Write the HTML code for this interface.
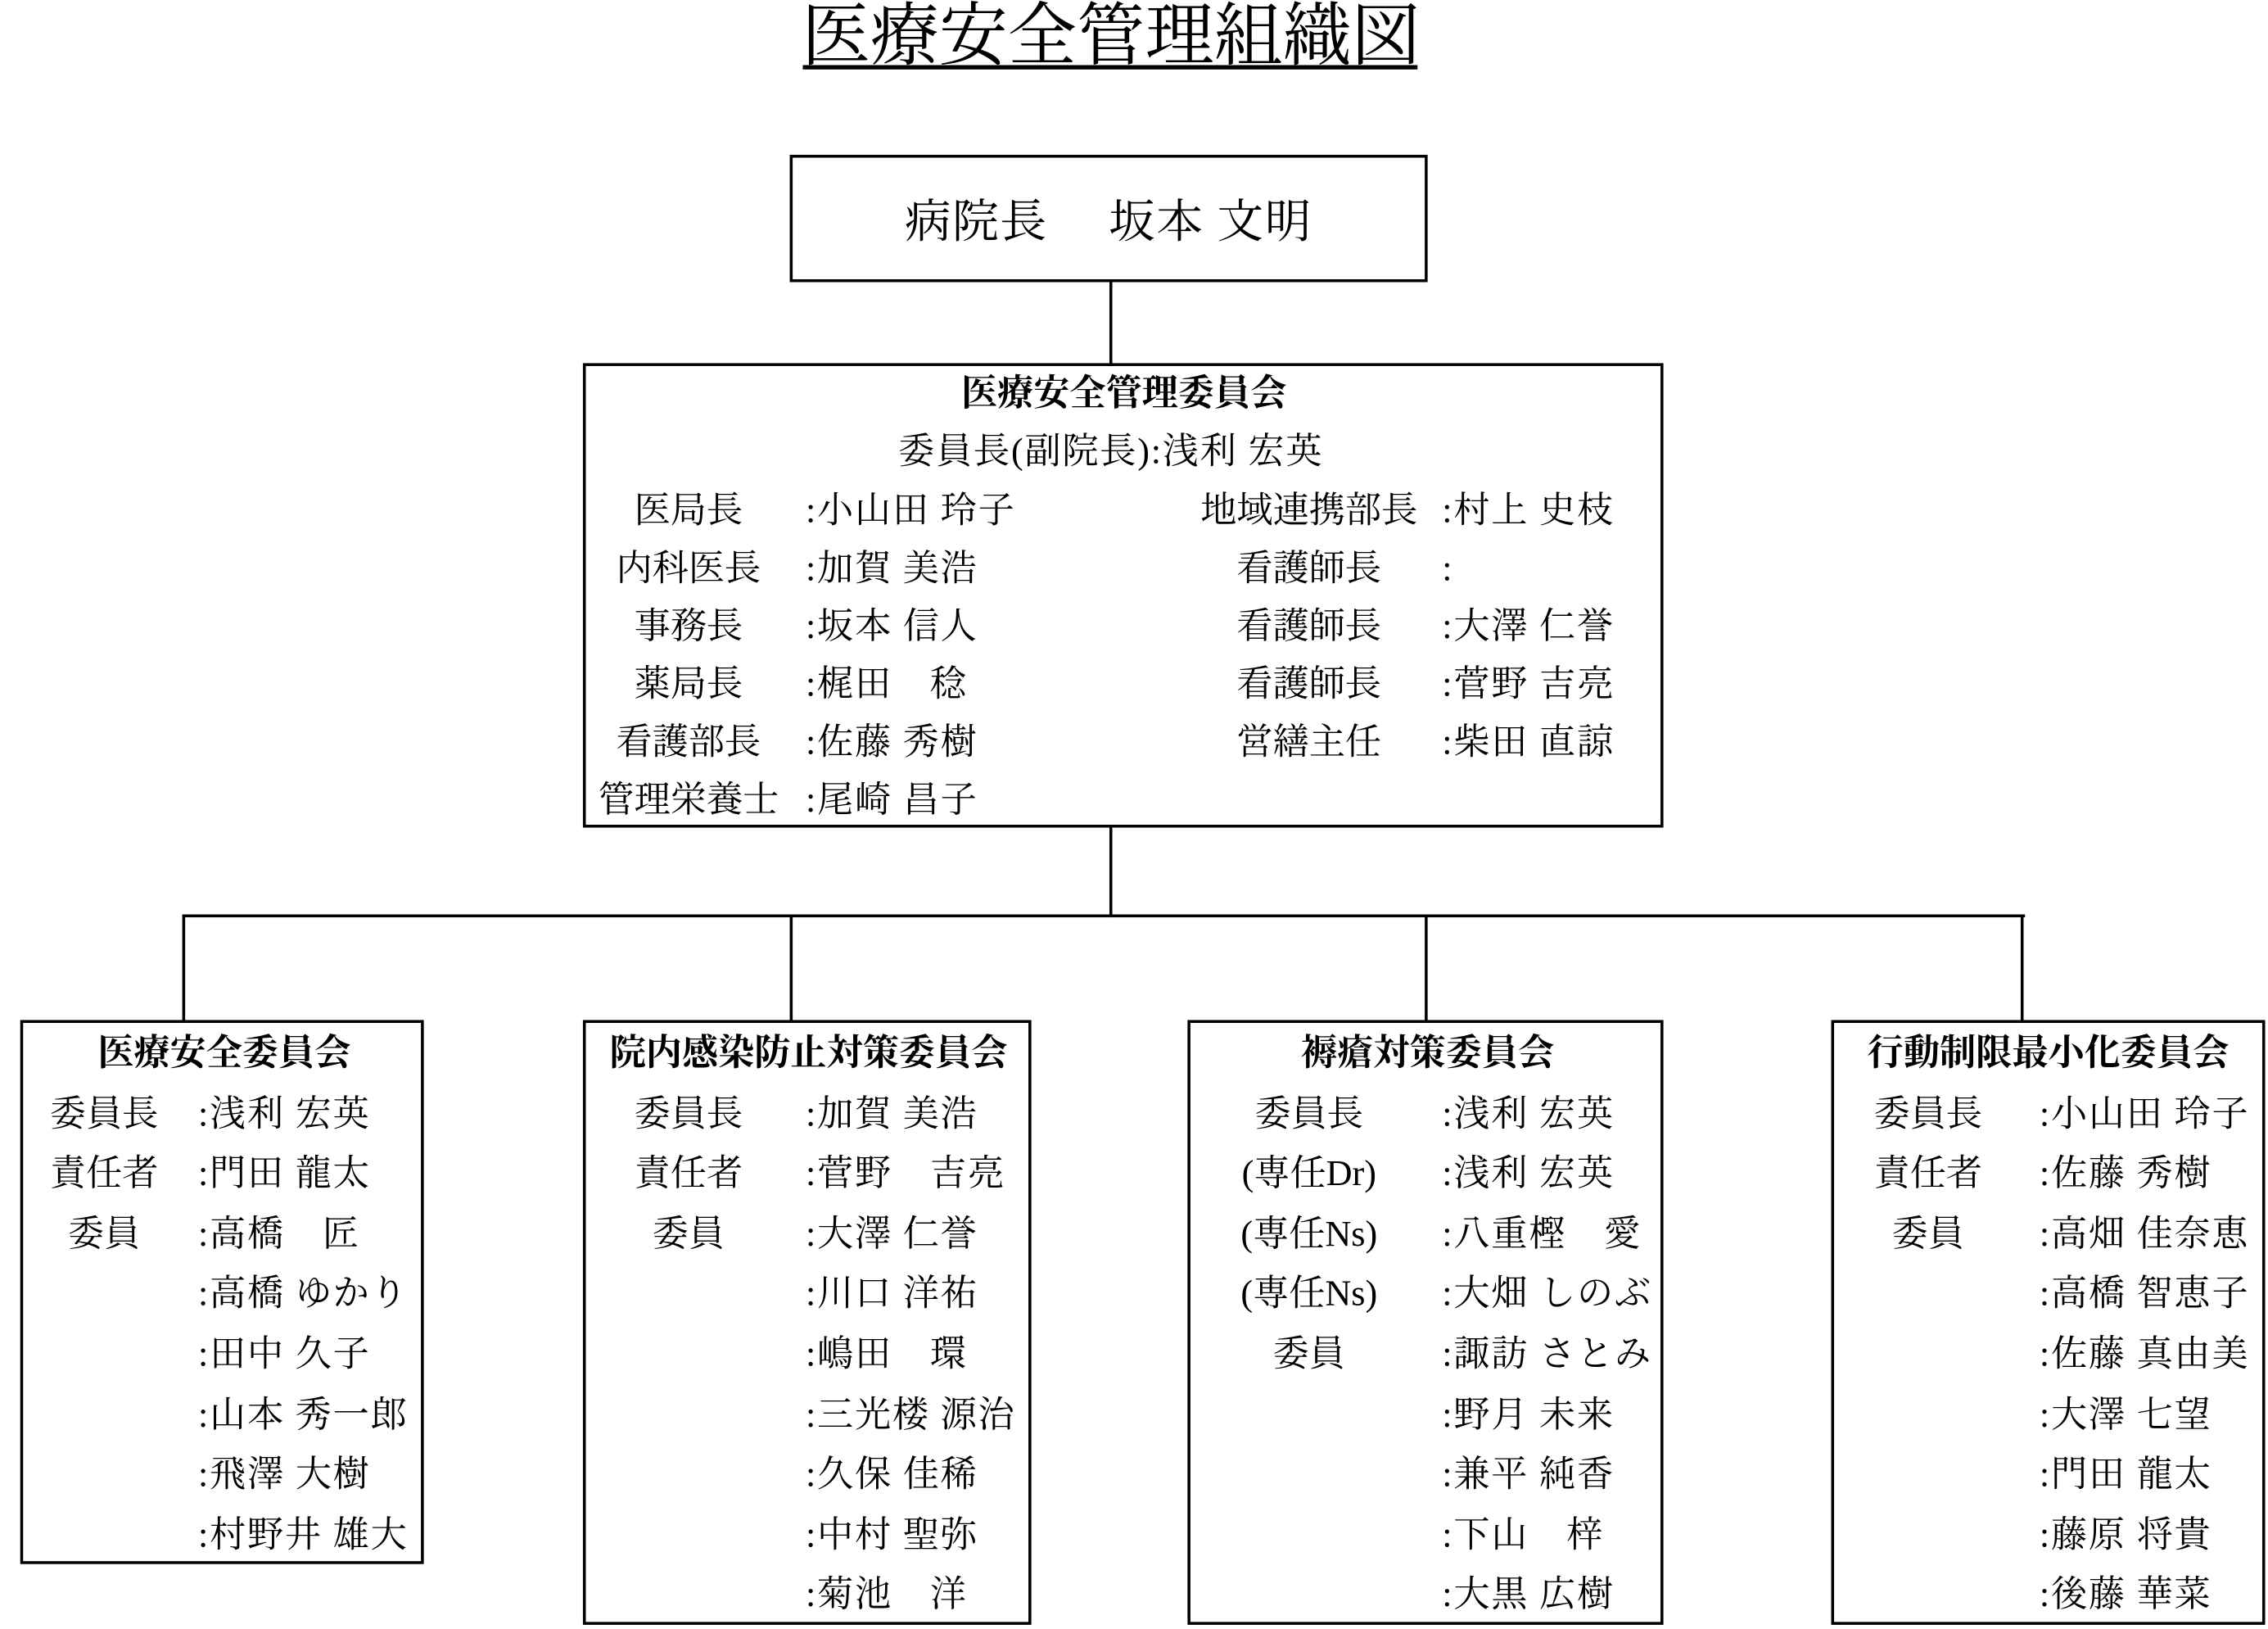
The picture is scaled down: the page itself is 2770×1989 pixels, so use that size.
<!DOCTYPE html>
<html><head><meta charset="utf-8">
<style>
html,body{margin:0;padding:0;background:#fff;width:2770px;height:1989px;overflow:hidden}
#w{position:absolute;left:0;top:0;width:1568px;height:1126px;transform:scale(1.7666);transform-origin:0 0;
font-family:"Liberation Serif","Noto Serif CJK JP",serif;color:#000}
.b{position:absolute;border:2px solid #000;box-sizing:border-box}
.h{position:absolute;height:2px;background:#000}
.v{position:absolute;width:2px;background:#000}
.t{position:absolute;font-size:25px;line-height:30px;height:30px;white-space:pre;margin-top:2px}
.n{letter-spacing:1px}
.c{text-align:center;width:240px}
.w{text-align:center;width:400px}
.bd{font-weight:bold}
</style></head><body><div id="w">
<div style="position:absolute;left:468px;top:0;width:600px;text-align:center;font-size:48px;line-height:52px;white-space:nowrap"><span style="display:inline-block;transform:scaleX(0.99)">医療安全管理組織図</span></div>
<div class="h" style="left:555px;top:45px;width:425px;height:3px"></div>

<div class="b" style="left:546px;top:107px;width:441px;height:88px"></div>
<div class="t n" style="left:546px;top:133px;width:441px;text-align:center;font-size:32px;line-height:36px;height:36px">病院長　 坂本 文明</div>

<div class="v" style="left:767px;top:194px;height:59px"></div>
<div class="b" style="left:403px;top:251px;width:747px;height:321px"></div>
<div class="v" style="left:767px;top:571px;height:63px"></div>
<div class="h" style="left:126px;top:632px;width:1274px"></div>
<div class="v" style="left:126px;top:632px;height:75px"></div>
<div class="v" style="left:546px;top:632px;height:75px"></div>
<div class="v" style="left:985px;top:632px;height:75px"></div>
<div class="v" style="left:1397px;top:632px;height:75px"></div>

<div class="t w bd" style="left:577px;top:256px">医療安全管理委員会</div>
<div class="t n" style="left:568px;top:296px;width:400px;text-align:center">委員長(副院長):浅利 宏英</div>

<div class="t c" style="left:356px;top:337px">医局長</div><div class="t n" style="left:557px;top:337px">:小山田 玲子</div>
<div class="t c" style="left:356px;top:377px">内科医長</div><div class="t n" style="left:557px;top:377px">:加賀 美浩</div>
<div class="t c" style="left:356px;top:417px">事務長</div><div class="t n" style="left:557px;top:417px">:坂本 信人</div>
<div class="t c" style="left:356px;top:457px">薬局長</div><div class="t n" style="left:557px;top:457px">:梶田　稔</div>
<div class="t c" style="left:356px;top:497px">看護部長</div><div class="t n" style="left:557px;top:497px">:佐藤 秀樹</div>
<div class="t c" style="left:356px;top:537px">管理栄養士</div><div class="t n" style="left:557px;top:537px">:尾崎 昌子</div>

<div class="t c" style="left:785px;top:337px">地域連携部長</div><div class="t n" style="left:997px;top:337px">:村上 史枝</div>
<div class="t c" style="left:785px;top:377px">看護師長</div><div class="t n" style="left:997px;top:377px">:</div>
<div class="t c" style="left:785px;top:417px">看護師長</div><div class="t n" style="left:997px;top:417px">:大澤 仁誉</div>
<div class="t c" style="left:785px;top:457px">看護師長</div><div class="t n" style="left:997px;top:457px">:菅野 吉亮</div>
<div class="t c" style="left:785px;top:497px">営繕主任</div><div class="t n" style="left:997px;top:497px">:柴田 直諒</div>

<!-- box1 -->
<div class="b" style="left:14px;top:705px;width:279px;height:376px"></div>
<div class="t w bd" style="left:-45px;top:712px">医療安全委員会</div>
<div class="t c" style="left:-48px;top:754px">委員長</div><div class="t n" style="left:137px;top:754px">:浅利 宏英</div>
<div class="t c" style="left:-48px;top:795px">責任者</div><div class="t n" style="left:137px;top:795px">:門田 龍太</div>
<div class="t c" style="left:-48px;top:837px">委員</div><div class="t n" style="left:137px;top:837px">:高橋　匠</div>
<div class="t n" style="left:137px;top:878px">:高橋 ゆかり</div>
<div class="t n" style="left:137px;top:920px">:田中 久子</div>
<div class="t n" style="left:137px;top:962px">:山本 秀一郎</div>
<div class="t n" style="left:137px;top:1003px">:飛澤 大樹</div>
<div class="t n" style="left:137px;top:1045px">:村野井 雄大</div>

<!-- box2 -->
<div class="b" style="left:403px;top:705px;width:310px;height:418px"></div>
<div class="t w bd" style="left:359px;top:712px">院内感染防止対策委員会</div>
<div class="t c" style="left:356px;top:754px">委員長</div><div class="t n" style="left:557px;top:754px">:加賀 美浩</div>
<div class="t c" style="left:356px;top:795px">責任者</div><div class="t n" style="left:557px;top:795px">:菅野　吉亮</div>
<div class="t c" style="left:356px;top:837px">委員</div><div class="t n" style="left:557px;top:837px">:大澤 仁誉</div>
<div class="t n" style="left:557px;top:878px">:川口 洋祐</div>
<div class="t n" style="left:557px;top:920px">:嶋田　環</div>
<div class="t n" style="left:557px;top:962px">:三光楼 源治</div>
<div class="t n" style="left:557px;top:1003px">:久保 佳稀</div>
<div class="t n" style="left:557px;top:1045px">:中村 聖弥</div>
<div class="t n" style="left:557px;top:1086px">:菊池　洋</div>

<!-- box3 -->
<div class="b" style="left:821px;top:705px;width:329px;height:418px"></div>
<div class="t w bd" style="left:787px;top:712px">褥瘡対策委員会</div>
<div class="t c" style="left:785px;top:754px">委員長</div><div class="t n" style="left:997px;top:754px">:浅利 宏英</div>
<div class="t c" style="left:785px;top:795px">(専任Dr)</div><div class="t n" style="left:997px;top:795px">:浅利 宏英</div>
<div class="t c" style="left:785px;top:837px">(専任Ns)</div><div class="t n" style="left:997px;top:837px">:八重樫　愛</div>
<div class="t c" style="left:785px;top:878px">(専任Ns)</div><div class="t n" style="left:997px;top:878px">:大畑 しのぶ</div>
<div class="t c" style="left:785px;top:920px">委員</div><div class="t n" style="left:997px;top:920px">:諏訪 さとみ</div>
<div class="t n" style="left:997px;top:962px">:野月 未来</div>
<div class="t n" style="left:997px;top:1003px">:兼平 純香</div>
<div class="t n" style="left:997px;top:1045px">:下山　梓</div>
<div class="t n" style="left:997px;top:1086px">:大黒 広樹</div>

<!-- box4 -->
<div class="b" style="left:1266px;top:705px;width:300px;height:418px"></div>
<div class="t w bd" style="left:1216px;top:712px">行動制限最小化委員会</div>
<div class="t c" style="left:1213px;top:754px">委員長</div><div class="t n" style="left:1410px;top:754px">:小山田 玲子</div>
<div class="t c" style="left:1213px;top:795px">責任者</div><div class="t n" style="left:1410px;top:795px">:佐藤 秀樹</div>
<div class="t c" style="left:1213px;top:837px">委員</div><div class="t n" style="left:1410px;top:837px">:高畑 佳奈恵</div>
<div class="t n" style="left:1410px;top:878px">:高橋 智恵子</div>
<div class="t n" style="left:1410px;top:920px">:佐藤 真由美</div>
<div class="t n" style="left:1410px;top:962px">:大澤 七望</div>
<div class="t n" style="left:1410px;top:1003px">:門田 龍太</div>
<div class="t n" style="left:1410px;top:1045px">:藤原 将貴</div>
<div class="t n" style="left:1410px;top:1086px">:後藤 華菜</div>
</div></body></html>
